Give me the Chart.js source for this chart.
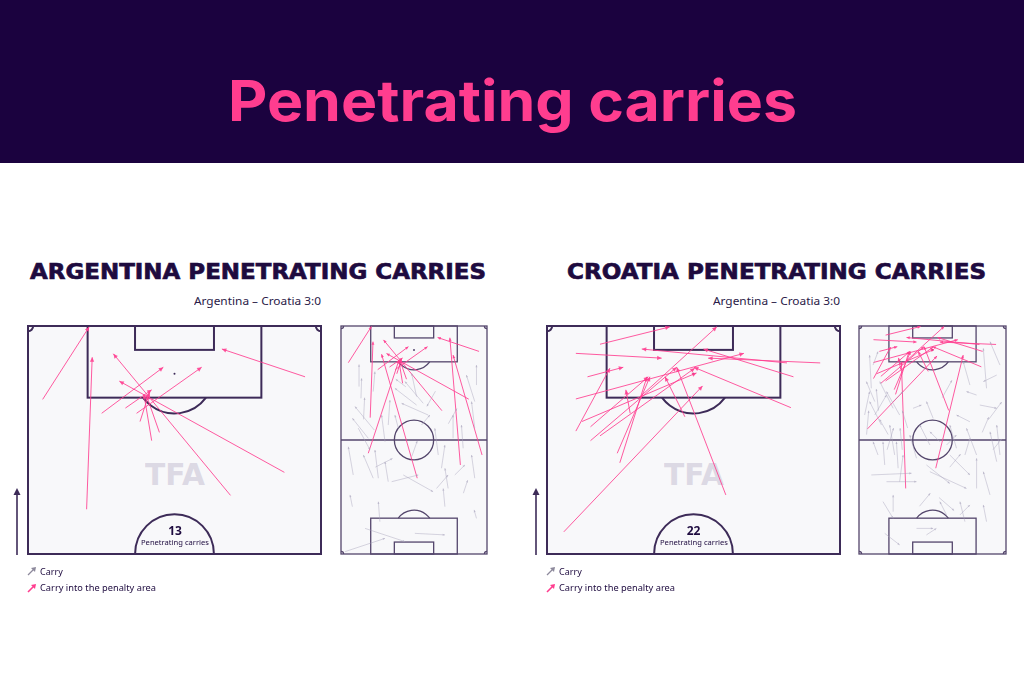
<!DOCTYPE html>
<html>
<head>
<meta charset="utf-8">
<script src="https://cdn.jsdelivr.net/npm/chart.js@4.4.1/dist/chart.umd.min.js"></script>
<style>
body { margin: 0; width: 1024px; height: 683px; background: #fff; position: relative; overflow: hidden; font-family: "Noto Sans", sans-serif; color: #1e0b3f; }
#head { position: absolute; left: 0; top: 0; width: 1024px; height: 163px; background: #1b023f; }
.txt { position: absolute; white-space: nowrap; line-height: 1; transform-origin: left top; }
.sect { font-family: "DejaVu Sans", sans-serif; font-weight: bold; font-size: 22px; -webkit-text-stroke: 0.7px #1e0b3f; }
.pitchBg { position: absolute; background: #f8f8fa; z-index: 0; }
.tfa { position: absolute; font-family: "DejaVu Sans", sans-serif; font-weight: bold; font-size: 31px; color: #dcd9e4; z-index: 1; white-space: nowrap; line-height: 1; transform-origin: left top; }
canvas { position: absolute; z-index: 2; }
.lbl { z-index: 3; }
svg { position: absolute; z-index: 3; }
</style>
</head>
<body>
<div id="head"></div>
<div class="txt" id="mainTitle" style="top:73px;font-family:Inter,sans-serif;font-weight:700;font-size:56px;color:#ff3d8f;">Penetrating carries</div>

<div class="txt sect" id="argTitle" style="top:261px;">ARGENTINA PENETRATING CARRIES</div>
<div class="txt sect" id="croTitle" style="top:261px;">CROATIA PENETRATING CARRIES</div>
<div class="txt" id="argSub" style="top:295px;font-size:11px;color:#2a1a48;">Argentina – Croatia 3:0</div>
<div class="txt" id="croSub" style="top:295px;font-size:11px;color:#2a1a48;">Argentina – Croatia 3:0</div>

<div class="pitchBg" style="left:28px;top:326px;width:293px;height:228px;"></div>
<div class="pitchBg" style="left:341px;top:326px;width:146px;height:228px;"></div>
<div class="pitchBg" style="left:547px;top:326px;width:293px;height:228px;"></div>
<div class="pitchBg" style="left:859px;top:326px;width:147px;height:228px;"></div>
<div class="tfa" id="argTfa" style="top:459px;">TFA</div>
<div class="tfa" id="croTfa" style="top:459px;">TFA</div>

<canvas id="argBig" width="301" height="236" style="left:24px;top:322px;"></canvas>
<canvas id="argSmall" width="154" height="236" style="left:337px;top:322px;"></canvas>
<canvas id="croBig" width="301" height="236" style="left:543px;top:322px;"></canvas>
<canvas id="croSmall" width="155" height="236" style="left:855px;top:322px;"></canvas>

<div class="txt lbl" id="argCount" style="top:525px;font-weight:bold;font-size:12px;"></div>
<div class="txt lbl" id="argCountLbl" style="top:539px;font-size:7.5px;">Penetrating carries</div>
<div class="txt lbl" id="croCount" style="top:525px;font-weight:bold;font-size:12px;"></div>
<div class="txt lbl" id="croCountLbl" style="top:539px;font-size:7.5px;">Penetrating carries</div>

<!-- direction of play + legend icons -->
<svg style="left:10px;top:485px;" width="14" height="72"><line x1="7" y1="70" x2="7" y2="8" stroke="#3d2b58" stroke-width="1.6"/><path d="M3.5 10 L7 3 L10.5 10 Z" fill="#3d2b58"/></svg>
<svg style="left:529px;top:485px;" width="14" height="72"><line x1="7" y1="70" x2="7" y2="8" stroke="#3d2b58" stroke-width="1.6"/><path d="M3.5 10 L7 3 L10.5 10 Z" fill="#3d2b58"/></svg>

<svg style="left:27px;top:566px;" width="10" height="10"><line x1="1" y1="9" x2="7" y2="3" stroke="#8d899c" stroke-width="1.2"/><path d="M4 2 L9 1 L8 6 Z" fill="#8d899c"/></svg>
<svg style="left:27px;top:583px;" width="10" height="10"><line x1="1" y1="9" x2="7" y2="3" stroke="#ff3d8f" stroke-width="1.6"/><path d="M4 2 L9 1 L8 6 Z" fill="#ff3d8f"/></svg>
<svg style="left:546px;top:566px;" width="10" height="10"><line x1="1" y1="9" x2="7" y2="3" stroke="#8d899c" stroke-width="1.2"/><path d="M4 2 L9 1 L8 6 Z" fill="#8d899c"/></svg>
<svg style="left:546px;top:583px;" width="10" height="10"><line x1="1" y1="9" x2="7" y2="3" stroke="#ff3d8f" stroke-width="1.6"/><path d="M4 2 L9 1 L8 6 Z" fill="#ff3d8f"/></svg>
<div class="txt lbl" id="argLeg1" style="left:40px;top:567px;font-size:9px;">Carry</div>
<div class="txt lbl" id="argLeg2" style="left:40px;top:583px;font-size:9px;">Carry into the penalty area</div>
<div class="txt lbl" id="croLeg1" style="left:559px;top:567px;font-size:9px;">Carry</div>
<div class="txt lbl" id="croLeg2" style="left:559px;top:583px;font-size:9px;">Carry into the penalty area</div>

<script>
// pitch is 68 x 105 m, attacking towards y = 105
// each carry: [startX, startY, endX, endY] in metres

const argCount = 13;
const croCount = 22;

// carries into the box starting in the attacking half (shown on both pitches)
const argBoxCarries = [
    [3.4, 88.1, 14.2, 104.8],
    [13.6, 62.8, 14.9, 97.8],
    [64.3, 93.3, 45.0, 99.7],
    [47.0, 66.0, 19.8, 98.6],
    [17.1, 84.9, 31.4, 95.5],
    [25.2, 84.9, 40.3, 95.5],
    [59.5, 71.3, 21.2, 92.3],
    [28.7, 78.6, 26.9, 89.3],
    [22.6, 86.1, 28.7, 90.3],
    [26.0, 83.0, 28.2, 89.8],
    [30.5, 80.5, 27.5, 89.0]
];

// carries into the box starting in the own half (full pitch only)
const argLongCarries = [
    [12.7, 46.4, 27.0, 89.3],
    [35.5, 34.9, 18.9, 92.0],
    [55.6, 41.0, 50.7, 99.6],
    [65.7, 45.6, 52.2, 91.6]
];

// all other carries
const argCarries = [
    [8.4, 77.1, 8.4, 87.3], [9.3, 71.7, 9.6, 80.9], [15.5, 57.1, 6.5, 67.9], [12.7, 53.3, 5.3, 62.5],
    [5.7, 36.4, 3.4, 49.4], [15.0, 34.9, 10.4, 45.6], [17.4, 34.9, 15.8, 47.9], [22.0, 33.3, 20.5, 42.5],
    [20.5, 51.7, 18.9, 64.0], [22.0, 59.4, 22.8, 70.9], [35.2, 68.6, 25.1, 76.3], [40.6, 64.0, 28.2, 69.4],
    [38.3, 69.4, 29.8, 79.4], [35.2, 72.5, 32.9, 83.2], [37.5, 59.4, 41.4, 64.0], [45.3, 45.6, 43.7, 57.9],
    [46.8, 39.5, 48.4, 50.2], [52.2, 53.3, 52.2, 64.0], [56.9, 48.7, 56.1, 59.4], [62.3, 70.2, 58.4, 82.4],
    [63.1, 77.8, 63.1, 87.0], [62.3, 57.9, 60.8, 70.2], [53.0, 36.4, 57.7, 41.0], [44.5, 30.2, 49.9, 36.4],
    [49.9, 30.2, 48.4, 39.5], [48.4, 21.8, 47.6, 30.2], [29.0, 36.4, 42.9, 28.7], [23.6, 33.3, 36.0, 36.4],
    [18.1, 14.9, 17.4, 24.1], [5.3, 21.8, 4.2, 27.2], [11.2, 11.8, 29.8, 5.7], [34.4, 9.5, 48.4, 8.8],
    [63.1, 16.4, 62.0, 20.3], [1.9, 1.1, 20.5, 7.2], [62.3, 34.9, 60.8, 45.6], [26.7, 57.9, 25.1, 64.0],
    [15.0, 74.8, 15.8, 84.0], [30.2, 77.0, 25.5, 80.5], [8.0, 58.0, 13.5, 48.0], [33.0, 45.0, 35.5, 52.0],
    [10.5, 62.0, 11.0, 72.0], [44.0, 75.0, 40.0, 68.0], [57.0, 28.0, 59.0, 34.0], [16.0, 40.0, 24.0, 44.0],
    [50.0, 60.0, 54.0, 67.0]
];

const croBoxCarries = [
    [12.3, 100.8, 28.5, 104.8],
    [6.7, 98.7, 26.6, 97.6],
    [9.4, 93.3, 17.7, 95.5],
    [6.7, 80.8, 14.6, 95.3],
    [6.7, 88.2, 45.7, 98.7],
    [57.2, 93.3, 36.3, 99.7],
    [8.1, 83.0, 34.7, 94.2],
    [10.1, 81.8, 23.5, 93.3],
    [10.1, 78.6, 30.1, 95.5],
    [16.3, 75.7, 23.9, 93.3],
    [19.3, 84.9, 18.3, 90.3],
    [3.9, 57.6, 36.1, 91.2],
    [41.5, 66.1, 30.1, 95.5],
    [32.0, 84.1, 27.4, 93.3],
    [21.6, 88.7, 39.4, 104.8],
    [56.6, 86.2, 34.1, 95.5],
    [63.4, 96.5, 37.4, 97.6],
    [55.7, 96.5, 22.0, 99.7],
    [12.3, 79.7, 34.3, 95.3],
    [16.9, 73.5, 23.2, 93.3]
];

const croLongCarries = [
    [21.6, 30.2, 19.6, 88.6],
    [35.5, 39.5, 48.2, 91.6]
];

const croCarries = [
    [5.7, 76.3, 4.9, 91.6], [7.3, 70.2, 3.4, 79.4], [10.4, 59.4, 4.9, 70.2], [15.8, 67.1, 9.6, 79.4],
    [7.3, 64.0, 12.7, 73.2], [18.8, 64.0, 12.7, 74.8], [16.5, 45.6, 14.2, 59.4], [11.9, 41.0, 11.1, 51.7],
    [18.1, 39.5, 17.3, 51.7], [5.7, 36.4, 24.3, 37.2], [12.7, 33.3, 26.6, 33.3], [15.8, 19.5, 15.8, 27.2],
    [11.9, 9.5, 18.8, 4.2], [26.6, 11.8, 34.3, 11.8], [32.8, 37.9, 49.7, 30.2], [31.2, 41.0, 42.0, 32.5],
    [42.0, 45.6, 51.3, 36.4], [49.0, 14.9, 46.7, 24.1], [54.4, 30.2, 54.4, 44.1], [60.6, 27.2, 57.5, 37.9],
    [63.7, 42.5, 60.6, 56.3], [54.4, 45.6, 49.7, 57.9], [51.3, 60.9, 45.1, 64.0], [55.9, 68.6, 63.7, 67.1],
    [63.7, 82.4, 57.5, 79.4], [54.4, 73.2, 49.7, 74.8], [51.3, 77.8, 48.2, 88.6], [65.2, 87.0, 60.6, 97.8],
    [59.0, 76.3, 57.5, 94.7], [34.3, 62.5, 31.2, 70.2], [32.8, 50.2, 28.1, 59.4], [37.4, 51.7, 32.8, 56.3],
    [26.6, 44.1, 23.5, 54.8], [2.6, 64.0, 4.9, 74.8], [45.1, 48.7, 42.0, 59.4], [40.5, 50.2, 45.1, 54.8],
    [65.2, 45.6, 63.7, 59.4], [49.0, 45.6, 51.3, 53.3], [6.5, 87.0, 8.8, 93.2], [25.0, 67.1, 28.9, 68.6],
    [18.8, 33.3, 20.4, 45.6], [40.5, 18.0, 37.4, 24.1], [59.0, 14.9, 57.5, 22.6], [31.2, 8.8, 35.8, 11.8],
    [46.7, 18.0, 51.3, 22.6], [15.8, 70.2, 20.4, 74.8], [8.8, 45.6, 6.5, 51.7], [11.1, 24.1, 15.8, 16.4],
    [13.5, 55.0, 9.5, 62.0], [22.5, 58.0, 20.0, 66.0], [60.0, 62.0, 66.0, 70.0], [38.5, 72.0, 43.0, 80.0],
    [3.5, 55.0, 4.5, 66.0], [9.0, 66.0, 8.0, 76.0], [13.0, 48.0, 16.0, 58.0], [20.0, 48.0, 19.0, 58.0],
    [42.0, 40.0, 47.0, 46.0], [57.0, 56.0, 60.0, 63.0], [62.0, 48.0, 66.0, 53.0], [37.0, 26.0, 44.0, 20.0],
    [28.0, 22.0, 33.0, 28.0]
];

const PINK = 'rgba(255, 61, 143, 0.85)';
const GREY = 'rgba(165, 161, 186, 0.55)';
const LINE = '#3d2b58';

function carrySets(list, color, width, head) {
    return list.map(c => ({
        data: [{ x: c[0], y: c[1] }, { x: c[2], y: c[3] }],
        borderColor: color,
        borderWidth: width,
        pointRadius: 0,
        fill: false,
        headSize: head
    }));
}

// pitch markings, drawn under the carries
const pitchLines = {
    id: 'pitchLines',
    beforeDatasetsDraw(chart, args, opts) {
        const ctx = chart.ctx;
        const xs = chart.scales.x, ys = chart.scales.y;
        const X = v => xs.getPixelForValue(v), Y = v => ys.getPixelForValue(v);
        const rx = r => Math.abs(X(r) - X(0)), ry = r => Math.abs(Y(r) - Y(0));
        const bottom = opts.bottom;
        ctx.save();
        ctx.strokeStyle = opts.color;
        ctx.lineWidth = opts.width;
        const box = (x1, y1, x2, y2) => ctx.strokeRect(X(x1), Y(y2), X(x2) - X(x1), Y(y1) - Y(y2));
        const arc = (cx, cy, r, a0, a1) => {
            ctx.beginPath();
            ctx.ellipse(X(cx), Y(cy), rx(r), ry(r), 0, a0, a1);
            ctx.stroke();
        };
        const cut = Math.asin(5.5 / 9.15);

        box(0, bottom, 68, 105);
        box(13.84, 88.5, 54.16, 105);
        box(24.84, 99.5, 43.16, 105);
        arc(34, 94, 9.15, cut, Math.PI - cut);
        arc(0, 105, 1.2, 0, Math.PI / 2);
        arc(68, 105, 1.2, Math.PI / 2, Math.PI);
        ctx.fillStyle = opts.color;
        ctx.beginPath();
        ctx.arc(X(34), Y(94), 1, 0, Math.PI * 2);
        ctx.fill();

        if (bottom === 0) {
            ctx.beginPath();
            ctx.moveTo(X(0), Y(52.5));
            ctx.lineTo(X(68), Y(52.5));
            ctx.stroke();
            arc(34, 52.5, 9.15, 0, Math.PI * 2);
            box(13.84, 0, 54.16, 16.5);
            box(24.84, 0, 43.16, 5.5);
            arc(34, 11, 9.15, Math.PI + cut, Math.PI * 2 - cut);
            arc(0, 0, 1.2, -Math.PI / 2, 0);
            arc(68, 0, 1.2, Math.PI, Math.PI * 1.5);
        } else {
            arc(34, 52.5, 9.15, Math.PI, Math.PI * 2);
        }
        ctx.restore();
    }
};

// arrow heads at the end of every carry
const arrowHeads = {
    id: 'arrowHeads',
    afterDatasetsDraw(chart) {
        const ctx = chart.ctx;
        ctx.save();
        ctx.beginPath();
        ctx.rect(chart.chartArea.left, chart.chartArea.top, chart.chartArea.width, chart.chartArea.height);
        ctx.clip();
        chart.data.datasets.forEach((ds, i) => {
            const pts = chart.getDatasetMeta(i).data;
            const a = pts[0], b = pts[1];
            const ang = Math.atan2(b.y - a.y, b.x - a.x);
            const s = ds.headSize;
            ctx.fillStyle = ds.borderColor;
            ctx.beginPath();
            ctx.moveTo(b.x, b.y);
            ctx.lineTo(b.x - s * Math.cos(ang - 0.45), b.y - s * Math.sin(ang - 0.45));
            ctx.lineTo(b.x - s * Math.cos(ang + 0.45), b.y - s * Math.sin(ang + 0.45));
            ctx.closePath();
            ctx.fill();
        });
        ctx.restore();
    }
};

function makePitch(id, half, datasets) {
    return new Chart(document.getElementById(id).getContext('2d'), {
        type: 'line',
        data: { datasets: datasets },
        options: {
            responsive: false,
            animation: false,
            events: [],
            layout: { padding: 4 },
            plugins: {
                legend: { display: false },
                tooltip: { enabled: false },
                pitchLines: half ? { bottom: 52.5, width: 2, color: LINE } : { bottom: 0, width: 1.3, color: '#54466c' }
            },
            scales: {
                x: { type: 'linear', min: 0, max: 68, display: false },
                y: { type: 'linear', min: half ? 52.5 : 0, max: 105, display: false }
            }
        },
        plugins: [pitchLines, arrowHeads]
    });
}

makePitch('argBig', true, carrySets(argBoxCarries, PINK, 1, 5));
makePitch('argSmall', false, carrySets(argCarries, GREY, 0.8, 2.5)
    .concat(carrySets(argBoxCarries.concat(argLongCarries), PINK, 1, 3.5)));
makePitch('croBig', true, carrySets(croBoxCarries, PINK, 1, 5));
makePitch('croSmall', false, carrySets(croCarries, GREY, 0.8, 2.5)
    .concat(carrySets(croBoxCarries.concat(croLongCarries), PINK, 1, 3.5)));

// text placement: squeeze each label to the width it has in the reference
document.getElementById('argCount').textContent = argCount;
document.getElementById('croCount').textContent = croCount;

function place(id, center, width) {
    const el = document.getElementById(id);
    const w = el.getBoundingClientRect().width;
    const k = width ? width / w : 1;
    el.style.left = (center - (width || w) / 2) + 'px';
    el.style.transform = 'scaleX(' + k + ')';
}
function fitLeft(id, width) {
    const el = document.getElementById(id);
    el.style.transform = 'scaleX(' + (width / el.getBoundingClientRect().width) + ')';
}

place('mainTitle', 512, 569);
place('argTitle', 258, 456);
place('croTitle', 776.5, 419);
place('argSub', 257, 127);
place('croSub', 776, 127);
place('argTfa', 175, 60);
place('croTfa', 693.5, 60);
place('argCount', 175, 0);
place('croCount', 693.5, 0);
place('argCountLbl', 175, 68);
place('croCountLbl', 693.5, 68);
fitLeft('argLeg2', 116);
fitLeft('croLeg2', 116);
</script>
</body>
</html>
